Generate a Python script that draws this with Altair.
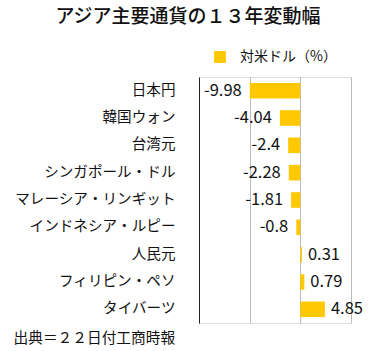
import altair as alt
import pandas as pd

currencies = ["日本円", "韓国ウォン", "台湾元", "シンガポール・ドル", "マレーシア・リンギット",
              "インドネシア・ルピー", "人民元", "フィリピン・ペソ", "タイバーツ"]
values = [-9.98, -4.04, -2.4, -2.28, -1.81, -0.8, 0.31, 0.79, 4.85]
value_labels = ["-9.98", "-4.04", "-2.4", "-2.28", "-1.81", "-0.8", "0.31", "0.79", "4.85"]
series_name = "対米ドル（%）"

df = pd.DataFrame({"通貨": currencies, "変動幅": values, "ラベル": value_labels,
                   "系列": [series_name] * len(currencies)})

JP = "Noto Sans CJK JP"
YELLOW = "#FFC800"

y_enc = alt.Y("通貨:N", sort=currencies,
              scale=alt.Scale(paddingInner=0.43, paddingOuter=0.215),
              axis=alt.Axis(title=None, ticks=False, domain=True, domainColor="#222",
                            labelPadding=24, labelFontSize=14.6, labelFont=JP,
                            labelColor="#111", grid=False))

x_scale = alt.Scale(domain=[-20, 10], nice=False)

bars = alt.Chart(df).mark_bar().encode(
    x=alt.X("変動幅:Q", scale=x_scale,
            axis=alt.Axis(values=[-20, -10, 0, 10], labels=False, ticks=False, domain=False,
                          grid=True, gridColor="#bbbbbb",
                          title="出典＝２２日付工商時報", titleFont=JP, titleFontSize=14.7,
                          titleFontWeight="normal", titleColor="#111",
                          titleX=-186, titleY=15, titleAlign="left", titleBaseline="middle")),
    x2=alt.datum(0),
    y=y_enc,
    color=alt.Color("系列:N", scale=alt.Scale(range=[YELLOW]),
                    legend=alt.Legend(title=None, orient="none", legendX=14, legendY=-27,
                                      symbolType="square", symbolSize=140, symbolStrokeWidth=0,
                                      symbolFillColor=YELLOW, symbolOpacity=1,
                                      labelFont=JP, labelFontSize=14, labelColor="#111",
                                      labelOffset=13, padding=0)),
)

neg = alt.Chart(df).transform_filter("datum['変動幅'] < 0").mark_text(
    align="right", baseline="middle", dx=-8, font=JP, fontSize=16.5, color="#111"
).encode(x=alt.X("変動幅:Q", scale=x_scale), y=alt.Y("通貨:N", sort=currencies), text="ラベル:N")

pos = alt.Chart(df).transform_filter("datum['変動幅'] >= 0").mark_text(
    align="left", baseline="middle", dx=6, font=JP, fontSize=16.5, color="#111"
).encode(x=alt.X("変動幅:Q", scale=x_scale), y=alt.Y("通貨:N", sort=currencies), text="ラベル:N")

chart = alt.layer(bars, neg, pos).properties(
    width=152, height=246,
    title=alt.TitleParams("アジア主要通貨の１３年変動幅", font=JP, fontSize=19,
                          fontWeight=500, color="#111", anchor="middle",
                          dx=-87, dy=-23, offset=0),
    autosize=alt.AutoSizeParams(type="none"),
    padding={"left": 199, "top": 77, "right": 31, "bottom": 28},
).configure_view(stroke=None).configure(background="white")

chart.save("out.html", embed_options={"renderer": "svg", "actions": False})
